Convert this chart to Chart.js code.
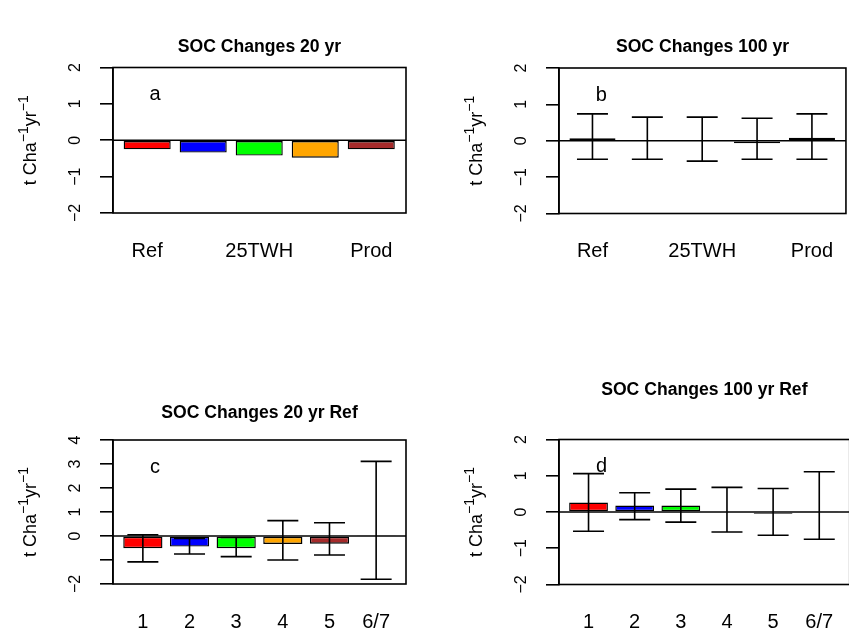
<!DOCTYPE html>
<html><head><meta charset="utf-8">
<script src="https://cdn.jsdelivr.net/npm/chart.js@4/dist/chart.umd.min.js"></script>
<style>
html,body{margin:0;padding:0;background:#fff;overflow:hidden;width:849px;height:635px;}
canvas{position:absolute;left:0;top:0;}
</style></head><body>
<canvas id="pa" width="860" height="635"></canvas>
<canvas id="pb" width="860" height="635"></canvas>
<canvas id="pc" width="860" height="635"></canvas>
<canvas id="pd" width="860" height="635"></canvas>
<script>
// ---- data ----
const namesTop = ['Ref', '', '25TWH', '', 'Prod'];
const namesBottom = ['1', '2', '3', '4', '5', '6/7'];
const yTicksTop = [-2, -1, 0, 1, 2];
const yTickLabelsTop = ['\u22122', '\u22121', '0', '1', '2'];
const yTicksC = [-2, -1, 0, 1, 2, 3, 4];
const yTickLabelsC = ['\u22122', '', '0', '1', '2', '3', '4'];
const barColors = ['#FF0000', '#0000FF', '#00FF00', '#FFA500', '#A52A2A', '#FF0000'];

const soc20 = [-0.25, -0.34, -0.42, -0.48, -0.25];
const soc100 = [0.07, 0.01, -0.02, -0.07, 0.08];
const soc100Low = [-0.51, -0.51, -0.56, -0.51, -0.51];
const soc100High = [0.74, 0.65, 0.65, 0.62, 0.74];
const soc20Ref = [-0.51, -0.44, -0.51, -0.33, -0.32, 0.04];
const soc20RefLow = [-1.08, -0.75, -0.86, -1.00, -0.79, -1.80];
const soc20RefHigh = [0.05, -0.10, -0.06, 0.64, 0.55, 3.11];
const soc100Ref = [0.26, 0.18, 0.18, 0.02, -0.05, 0.03];
const soc100RefLow = [-0.53, -0.21, -0.28, -0.55, -0.64, -0.75];
const soc100RefHigh = [1.06, 0.53, 0.63, 0.68, 0.65, 1.11];

// ---- layout ----
const FONT = '"Liberation Sans", Arial, Helvetica, sans-serif';
const W = 860, H = 635, Y_W = 60, X_H = 50;

const panelPlugin = {
  id: 'panel',
  afterDatasetsDraw(chart, args, o) {
    const {ctx, chartArea: ca, scales: {x, y}} = chart;
    ctx.save();
    ctx.strokeStyle = '#000';
    ctx.fillStyle = '#000';
    ctx.lineWidth = 1.4;
    const y0 = y.getPixelForValue(0);
    ctx.beginPath(); ctx.moveTo(ca.left, y0); ctx.lineTo(ca.right, y0); ctx.stroke();
    if (o.low) {
      ctx.lineWidth = 1.6;
      o.low.forEach((lo, i) => {
        const px = x.getPixelForValue(i);
        const p1 = y.getPixelForValue(lo), p2 = y.getPixelForValue(o.high[i]);
        ctx.beginPath();
        ctx.moveTo(px, p1); ctx.lineTo(px, p2);
        ctx.moveTo(px - o.cap, p1); ctx.lineTo(px + o.cap, p1);
        ctx.moveTo(px - o.cap, p2); ctx.lineTo(px + o.cap, p2);
        ctx.stroke();
      });
    }
    ctx.lineWidth = 1.6;
    ctx.strokeRect(ca.left, ca.top, ca.right - ca.left, ca.bottom - ca.top);
    // panel letter
    ctx.font = '20px ' + FONT;
    ctx.textAlign = 'center'; ctx.textBaseline = 'middle';
    ctx.fillText(o.letter, x.getPixelForValue(o.letterX), y.getPixelForValue(o.letterY));
    // title
    ctx.font = 'bold 17.6px ' + FONT;
    ctx.fillText(o.title, (ca.left + ca.right) / 2, o.titleY);
    // y label with superscripts
    const parts = [
      {t: 't Cha', s: 18, dy: 0}, {t: '\u22121', s: 14, dy: -8},
      {t: 'yr', s: 18, dy: 0}, {t: '\u22121', s: 14, dy: -8}
    ];
    let total = 0;
    parts.forEach(p => { ctx.font = p.s + 'px ' + FONT; p.w = ctx.measureText(p.t).width; total += p.w; });
    ctx.translate(ca.left - 84, (ca.top + ca.bottom) / 2);
    ctx.rotate(-Math.PI / 2);
    ctx.textAlign = 'left'; ctx.textBaseline = 'alphabetic';
    let cx = -total / 2;
    parts.forEach(p => { ctx.font = p.s + 'px ' + FONT; ctx.fillText(p.t, cx, 6.5 + p.dy); cx += p.w; });
    ctx.restore();
  }
};

function makePanel(id, cfg) {
  new Chart(document.getElementById(id), {
    type: 'bar',
    data: {
      datasets: [{
        data: cfg.values.map((v, i) => ({x: i, y: v})),
        backgroundColor: barColors.slice(0, cfg.values.length),
        borderColor: '#000', borderWidth: 1.4, borderSkipped: false,
        categoryPercentage: 1, barPercentage: 0.84
      }]
    },
    options: {
      responsive: false, animation: false, devicePixelRatio: 1,
      layout: {padding: {left: cfg.box.l - Y_W, top: cfg.box.t, right: W - cfg.box.r, bottom: H - cfg.box.b - X_H}},
      plugins: {
        legend: {display: false}, tooltip: {enabled: false},
        panel: {title: cfg.title, titleY: cfg.titleY, letter: cfg.letter, letterX: cfg.letterX, letterY: cfg.letterY,
                low: cfg.low, high: cfg.high, cap: 15.5}
      },
      scales: {
        x: {
          type: 'linear', min: cfg.xMin, max: cfg.xMax, offset: false,
          grid: {display: false, drawTicks: false}, border: {display: false},
          afterBuildTicks: s => { s.ticks = cfg.names.map((n, i) => ({value: i})); },
          ticks: {autoSkip: false, maxRotation: 0, minRotation: 0, padding: 26, color: '#000',
                  font: {size: 20, family: FONT}, callback: (v, i) => cfg.names[i]},
          afterFit: s => { s.height = X_H; }
        },
        y: {
          type: 'linear', min: cfg.yTicks[0], max: cfg.yTicks[cfg.yTicks.length - 1],
          afterBuildTicks: s => { s.ticks = cfg.yTicks.map(v => ({value: v})); },
          grid: {display: true, drawOnChartArea: false, drawTicks: true, tickLength: 13, color: '#000', lineWidth: 1.6},
          border: {display: true, color: '#000', width: 1.6},
          ticks: {autoSkip: false, minRotation: 90, maxRotation: 90, crossAlign: 'center', padding: 15, color: '#000',
                  font: {size: 16, family: FONT}, callback: (v, i) => cfg.yLabels[i]},
          afterFit: s => { s.width = Y_W; }
        }
      }
    },
    plugins: [panelPlugin]
  });
}

makePanel('pa', {values: soc20, names: namesTop, yTicks: yTicksTop, yLabels: yTickLabelsTop,
  box: {l: 113, t: 67.5, r: 406, b: 213}, xMin: -0.61, xMax: 4.62,
  title: 'SOC Changes 20 yr', titleY: 47, letter: 'a', letterX: 0.14, letterY: 1.25});
makePanel('pb', {values: soc100, names: namesTop, yTicks: yTicksTop, yLabels: yTickLabelsTop,
  low: soc100Low, high: soc100High,
  box: {l: 559, t: 68, r: 852, b: 213.5}, xMin: -0.61, xMax: 4.62,
  title: 'SOC Changes 100 yr', titleY: 47, letter: 'b', letterX: 0.16, letterY: 1.25});
makePanel('pc', {values: soc20Ref, names: namesBottom, yTicks: yTicksC, yLabels: yTickLabelsC,
  low: soc20RefLow, high: soc20RefHigh,
  box: {l: 113, t: 440, r: 406, b: 584}, xMin: -0.64, xMax: 5.64,
  title: 'SOC Changes 20 yr Ref', titleY: 413, letter: 'c', letterX: 0.26, letterY: 2.86});
makePanel('pd', {values: soc100Ref, names: namesBottom, yTicks: yTicksTop, yLabels: yTickLabelsTop,
  low: soc100RefLow, high: soc100RefHigh,
  box: {l: 559, t: 439.5, r: 852, b: 584.5}, xMin: -0.64, xMax: 5.66,
  title: 'SOC Changes 100 yr Ref', titleY: 390, letter: 'd', letterX: 0.28, letterY: 1.26});
</script>
</body></html>
